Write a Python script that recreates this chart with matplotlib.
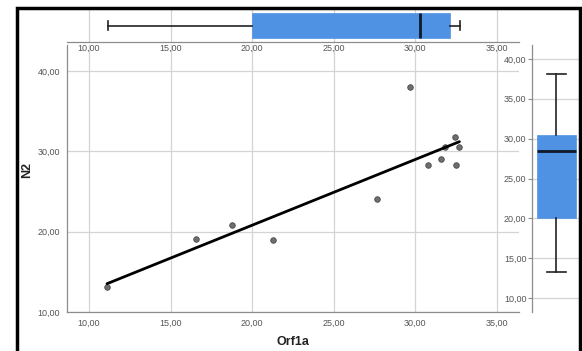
import numpy as np
import matplotlib
matplotlib.use("Agg")
import matplotlib.pyplot as plt
from matplotlib.ticker import FuncFormatter
from matplotlib.patches import Rectangle

plt.rcParams["font.family"] = ["Liberation Sans", "DejaVu Sans"]

# Data
orf1a = [11.1, 16.57, 18.74, 21.27, 27.65, 29.7, 30.8, 31.6, 31.8, 32.4, 32.7, 32.5]
n2 = [13.15, 19.1, 20.83, 18.97, 24.1, 38.0, 28.3, 29.1, 30.5, 31.8, 30.5, 28.3]

# Box-plot summaries
orf1a_box = dict(whislo=11.15, q1=20.0, med=30.3, q3=32.15, whishi=32.75)
n2_box = dict(whislo=13.3, q1=20.0, med=28.4, q3=30.5, whishi=38.1)

xticks = [10, 15, 20, 25, 30, 35]
yticks_main = [10, 20, 30, 40]
yticks_right = [10, 15, 20, 25, 30, 35, 40]

W, H = 582, 351
fig = plt.figure(figsize=(W / 100, H / 100), dpi=100)

def rect(x0, x1, ytop, ybot):
    return [x0 / W, (H - ybot) / H, (x1 - x0) / W, (ybot - ytop) / H]

fmt = FuncFormatter(lambda v, p: f"{v:.2f}".replace(".", ","))
grid_c = "#d4d4d4"
spine_c = "#8c8c8c"
tick_c = "#555555"
box_c = "#4f92e3"
xlim = (8.65, 36.35)
tick_fs = 6.5

# Main scatter axes
ax = fig.add_axes(rect(67, 519, 45, 312))
ax.set_xlim(*xlim)
ax.set_ylim(10, 43.25)
ax.set_xticks(xticks)
ax.set_yticks(yticks_main)
ax.xaxis.set_major_formatter(fmt)
ax.yaxis.set_major_formatter(fmt)
ax.grid(True, color=grid_c, lw=0.9)
ax.set_axisbelow(True)
for s in ["top", "right"]:
    ax.spines[s].set_visible(False)
for s in ["left", "bottom"]:
    ax.spines[s].set_color(spine_c)
    ax.spines[s].set_linewidth(0.9)
ax.tick_params(length=0, labelsize=tick_fs, colors=tick_c, pad=5)
ax.scatter(orf1a, n2, s=16, color="#6e6e6e", edgecolor="#4a4a4a", linewidth=0.6, zorder=3)
coef = np.polyfit(orf1a, n2, 1)
xs = np.array([min(orf1a), max(orf1a)])
ax.plot(xs, np.polyval(coef, xs), color="black", lw=2, zorder=4, solid_capstyle="round")

# Top marginal box plot
axt = fig.add_axes(rect(67, 519, 9, 42))
axt.set_xlim(*xlim)
axt.set_ylim(0, 1)
axt.bxp([orf1a_box], positions=[0.5], widths=0.75, vert=False, patch_artist=True,
        showfliers=False,
        boxprops=dict(facecolor=box_c, edgecolor=box_c, lw=0.5),
        medianprops=dict(color="#10182a", lw=2),
        whiskerprops=dict(color="#222222", lw=1.2),
        capprops=dict(color="#222222", lw=1.2), capwidths=0.3)
axt.set_xticks(xticks)
axt.xaxis.set_major_formatter(fmt)
axt.set_yticks([])
axt.grid(True, axis="x", color=grid_c, lw=0.9)
axt.set_axisbelow(True)
for s in ["top", "right", "left"]:
    axt.spines[s].set_visible(False)
axt.spines["bottom"].set_color(spine_c)
axt.spines["bottom"].set_linewidth(0.9)
axt.tick_params(axis="x", length=0, labelsize=tick_fs, colors=tick_c, pad=1)

# Right marginal box plot
axr = fig.add_axes(rect(532, 579, 45, 312))
axr.set_ylim(8.25, 41.75)
axr.set_xlim(0, 1)
axr.bxp([n2_box], positions=[0.52], widths=0.83, vert=True, patch_artist=True,
        showfliers=False,
        boxprops=dict(facecolor=box_c, edgecolor=box_c, lw=0.5),
        medianprops=dict(color="#10182a", lw=2),
        whiskerprops=dict(color="#222222", lw=1.2),
        capprops=dict(color="#222222", lw=1.2), capwidths=0.4)
axr.set_yticks(yticks_right)
axr.yaxis.set_major_formatter(fmt)
axr.set_xticks([])
axr.grid(True, axis="y", color=grid_c, lw=0.9)
axr.set_axisbelow(True)
for s in ["top", "right", "bottom"]:
    axr.spines[s].set_visible(False)
axr.spines["left"].set_color(spine_c)
axr.spines["left"].set_linewidth(0.9)
axr.tick_params(axis="y", length=3, width=0.8, labelsize=tick_fs, colors=tick_c, pad=1)
axr.tick_params(axis="y", color=spine_c)

# Axis titles
fig.text(27 / W, 1 - 170 / H, "N2", rotation=90, ha="center", va="center",
         fontsize=9, fontweight="bold", color="#222222")
fig.text(293 / W, 1 - 342 / H, "Orf1a", ha="center", va="center",
         fontsize=9, fontweight="bold", color="#222222")

# Outer frame
fig.patches.append(Rectangle((17 / W, -0.05), (580 - 17) / W, 1.05 - 8 / H,
                             transform=fig.transFigure, fill=False,
                             edgecolor="black", lw=2.5))

fig.savefig("out.png", dpi=100)
